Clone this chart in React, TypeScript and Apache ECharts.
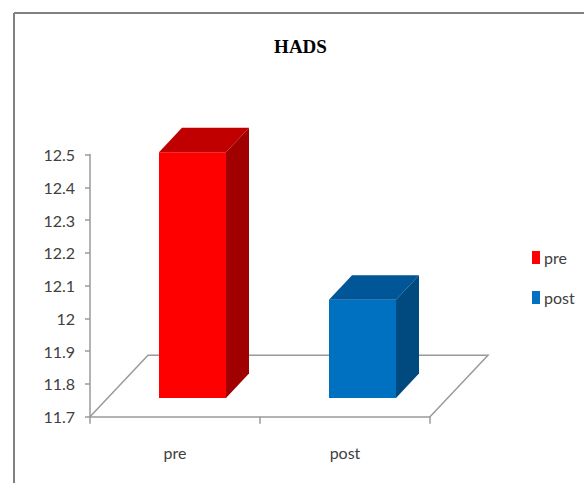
import React, { useEffect, useRef } from "react";
import * as echarts from "echarts";

const categories = ["pre", "post"];
const preValues = [[0, 12.45]];
const postValues = [[1, 12.0]];
const yMin = 11.7;
const yMax = 12.5;
const yStep = 0.1;
const titleText = "HADS";

const NARROW = "Lato, 'Liberation Sans', sans-serif";
const TEXT = "#404040";
const AXIS = "#9a9a9a";

const barDepth = [23, -24.5];
const floorDepth = [58, -61.5];
const lift = 18.7;
const barWidthRatio = 67 / 170;
const barShiftRatio = 17.5 / 170;

function barRenderer(front: string, top: string, side: string) {
  return (_params: any, api: any) => {
    const p = api.coord([api.value(0), api.value(1)]);
    const base = api.coord([api.value(0), yMin]);
    const band = api.size([1, 0])[0];
    const w = band * barWidthRatio;
    const x0 = p[0] + band * barShiftRatio - w / 2;
    const x1 = x0 + w;
    const yt = p[1] - lift;
    const yb = base[1] - lift;
    const [dx, dy] = barDepth;
    return {
      type: "group",
      children: [
        { type: "polygon", shape: { points: [[x0, yt], [x1, yt], [x1, yb], [x0, yb]] }, style: { fill: front } },
        { type: "polygon", shape: { points: [[x0, yt], [x1, yt], [x1 + dx, yt + dy], [x0 + dx, yt + dy]] }, style: { fill: top } },
        { type: "polygon", shape: { points: [[x1, yt], [x1 + dx, yt + dy], [x1 + dx, yb + dy], [x1, yb]] }, style: { fill: side } },
      ],
    };
  };
}

function floorRenderer(_params: any, api: any) {
  const band = api.size([1, 0])[0];
  const a = api.coord([0, yMin]);
  const b = api.coord([categories.length - 1, yMin]);
  const l = a[0] - band / 2;
  const r = b[0] + band / 2;
  const y = a[1];
  const [dx, dy] = floorDepth;
  return {
    type: "polyline",
    shape: { points: [[l, y], [l + dx, y + dy], [r + dx, y + dy], [r, y]] },
    style: { fill: "none", stroke: AXIS, lineWidth: 1.5 },
  };
}

export default function App() {
  const ref = useRef<HTMLDivElement>(null);
  useEffect(() => {
    document.body.style.margin = "0";
    const chart = echarts.init(ref.current!, null, { renderer: "svg" });
    chart.setOption({
      animation: false,
      backgroundColor: "#ffffff",
      title: {
        text: titleText,
        left: 295.5,
        top: 32,
        textAlign: "center",
        textStyle: { fontFamily: "'Liberation Serif', serif", fontWeight: "bold", fontSize: 19, color: "#000" },
      },
      legend: {
        data: categories,
        orient: "vertical",
        left: 532,
        top: 249.5,
        itemWidth: 8,
        itemHeight: 13,
        itemGap: 24,
        icon: "rect",
        textStyle: { fontFamily: NARROW, fontSize: 16, color: TEXT, padding: [0, 0, 0, -1] },
        padding: 0,
      },
      grid: { left: 90, right: 154, top: 154.5, bottom: 66.3 },
      xAxis: {
        type: "category",
        data: categories,
        boundaryGap: true,
        axisLine: { lineStyle: { color: AXIS, width: 1.5 } },
        axisTick: { show: true, length: 7, lineStyle: { color: AXIS, width: 1.5 } },
        axisLabel: { margin: 28, fontFamily: NARROW, fontSize: 16, color: TEXT },
      },
      yAxis: {
        type: "value",
        min: yMin,
        max: yMax,
        interval: yStep,
        splitLine: { show: false },
        axisLine: { show: true, lineStyle: { color: AXIS, width: 1.5 } },
        axisTick: { show: true, length: 5, lineStyle: { color: AXIS, width: 1.5 } },
        axisLabel: { margin: 15, fontFamily: NARROW, fontSize: 16, color: TEXT },
      },
      graphic: [
        { type: "line", shape: { x1: 14, y1: 13, x2: 584, y2: 13 }, style: { stroke: "#808080", lineWidth: 2 } },
        { type: "line", shape: { x1: 14, y1: 13, x2: 14, y2: 483 }, style: { stroke: "#808080", lineWidth: 2 } },
      ],
      series: [
        { type: "custom", name: "floor", silent: true, z: 1, data: [[0, yMin]], encode: { x: 0, y: 1 }, renderItem: floorRenderer, clip: false },
        { type: "custom", name: "pre", z: 3, itemStyle: { color: "#ff0000" }, data: preValues, encode: { x: 0, y: 1 }, renderItem: barRenderer("#ff0000", "#c00000", "#a00000"), clip: false },
        { type: "custom", name: "post", z: 3, itemStyle: { color: "#0070c0" }, data: postValues, encode: { x: 0, y: 1 }, renderItem: barRenderer("#0070c0", "#005696", "#004a80"), clip: false },
      ],
    });
    return () => chart.dispose();
  }, []);
  return <div ref={ref} style={{ width: 584, height: 483 }} />;
}
